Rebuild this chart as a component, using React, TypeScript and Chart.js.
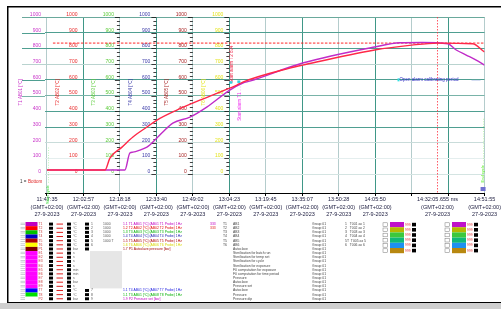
import React, { useEffect, useRef } from 'react';
import { Chart, registerables } from 'chart.js';

Chart.register(...registerables);

const FONT = '"Liberation Sans", Arial, sans-serif';

// ---------- x axis (minutes after 11:47:35) ----------
const tickMinutes = [0, 15.36, 30.72, 46.08, 61.44, 76.81, 92.17, 107.53, 122.89, 138.25, 153.61, 168.97, 184.33];
const tickTimes = ['11:47:35', '12:02:57', '12:18:18', '12:33:40', '12:49:02', '13:04:23', '13:19:45', '13:35:07', '13:50:28', '14:05:50', '', '', '14:51:55'];
const tickZone = '(GMT+02:00)';
const tickDate = '27-9-2023';

const cursorMinute = 164.5;
const cursorTime = '14:32:05.655 ms';

// ---------- y axis ----------
const yTickValues = [0, 100, 200, 300, 400, 500, 600, 700, 800, 900, 1000];
const yGridColors = ['#d4e4e2', '#e4eeee', '#c9dcda', '#4f9f91', '#4f9f91', '#79b3a8', '#4f9f91', '#b9d3cf', '#4f9f91', '#4f9f91', '#6aa99c'];

// ---------- series ----------
const t1Minutes = [0, 32.8, 34.9, 36.2, 39.1, 42.1, 43.3, 46.3, 48.8, 53.0, 60.2, 67.3, 77.0, 82.5, 85.4, 107.7, 138.0, 148.6, 158.0, 168.8, 172.4, 176.6, 180.8, 184.3];
const t1Values = [26, 26, 134, 140, 153, 172, 185, 230, 268, 325, 363, 427, 535, 580, 592, 707, 809, 836, 838, 830, 790, 758, 726, 694];

const t2Minutes = [0, 24.4, 26.5, 31.6, 36.2, 42.1, 46.3, 54.7, 64.4, 72.8, 80.0, 82.5, 102.3, 107.7, 138.0, 153.6, 164.5, 179.3, 184.3];
const t2Values = [26, 26, 102, 172, 236, 300, 344, 408, 471, 522, 567, 586, 675, 694, 790, 821, 834, 830, 777];

const alarmLimit = 834;
const alarmFrom = 2.5;
const alarmTo = 184.33;

// ---------- in-plot axis columns ----------
const columnTicks = [0, 1, 2, 3, 4, 5];
const columnTitles = ['T1 AB01 [°C]', 'T2 AB02 [°C]', 'T3 AB03 [°C]', 'T4 AB04 [°C]', 'T5 AB05 [°C]', 'T6 AB06 [°C]'];
const columnColors = ['#c833c8', '#e82a2a', '#5ccc3a', '#3a3aa8', '#a82424', '#e4e41c'];

// ---------- table below ----------
const rowSwatches = ['#c000c0', '#ff0000', '#00c000', '#0000c8', '#b00000', '#ffff00', '#800000', '#ff00ff', '#ff00ff', '#ff00ff', '#ff00ff', '#ff00ff', '#ff00ff', '#ff00ff', '#ff00ff', '#ff00ff', '#0000ff', '#00e000', '#ffffff'];
const rowIds = ['T1', 'T2', 'T3', 'T4', 'T5', 'T6', 'P1', 'E1', 'E2', 'E3', 'E4', 'E5', 'E6', 'E7', 'E8', 'E9', 'T7', 'T8', 'P2'];
const rowUnits = ['°C', '°C', '°C', '°C', '°C', '°C', 'bar', 's', 's', 's', 's', 'min', 'min', 's', 'bar', 's', '°C', '°C', 'bar'];
const rowChannel = ['1', '2', '3', '4', '5', '6', '', '', '', '', '', '', '', '', '', '', '7', '8', '9'];
const rowRange = ['1000', '1000', '1000', '1000', '1000 T', '', '', '', '', '', '', '', '', '', '', '', '', '', ''];
const rowNames = ['1.1 T1 AB01 [°C] (AB01 T1 Probe) 1Hz', '1.2 T2 AB02 [°C] (AB02 T2 Probe) 1Hz', '1.3 T3 AB03 [°C] (AB03 T3 Probe) 1Hz', '1.4 T4 AB04 [°C] (AB04 T4 Probe) 1Hz', '1.5 T5 AB05 [°C] (AB05 T5 Probe) 1Hz', '1.6 T6 AB06 [°C] (AB06 T6 Probe) 1Hz', '1.7 P1 Autoclave pressure [bar]', '', '', '', '', '', '', '', '', '', '1.1 T4 AB01 [°C] (AB07 T7 Probe) 1Hz', '1.1 T3 AB01 [°C] (AB08 T8 Probe) 1Hz', '1.9 P2 Pressure set [bar]'];
const rowNameColors = ['#c000c0', '#e00000', '#00b000', '#2020b0', '#b00000', '#d8d800', '#a00000', '', '', '', '', '', '', '', '', '', '#2020e0', '#00b000', '#c000c0'];
const rowFlags = ['333', '333', '', '', '', '', '', '', '', '', '', '', '', '', '', '', '', '', ''];
const rowTags = ['T1', 'T2', 'T3', 'T4', 'T5', 'T6', '', '', '', '', '', '', '', '', '', '', '', '', ''];
const rowDesc = ['AB1', 'AB2', 'AB3', 'AB4', 'AB5', 'AB6', 'Autoclave', 'Sterilisation for batch run', 'Sterilisation for temp set', 'Sterilisation for cycle', 'Sterilisation for exposure', 'F0 computation for exposure', 'F0 computation for time period', 'Pressure', 'Autoclave', 'Pressure set', 'Autoclave', 'Pressure', 'Pressure dip'];
const rowGroup = 'Group 01';
const channelNames = ['1   T001 ax 1', '2   T002 ax 2', '3   T003 ax 3', '4   T004 ax 4', '5T  T005 ax 5', '6   T006 ax 6'];
const groupSwatches = ['#c010c8', '#b4b800', '#3cc83c', '#10b878', '#1e90f0', '#b88810'];
const groupValues = ['999', '999', '999', '999', '999', '999'];

const markerText = 'Open alarm calibrating period';

function App() {
  const ref = useRef<HTMLCanvasElement | null>(null);

  useEffect(() => {
    const canvas = ref.current;
    if (!canvas) return;

    const decor = {
      id: 'decor',
      beforeDraw(chart: any) {
        const c = chart.ctx;
        c.save();
        c.fillStyle = '#ffffff';
        c.fillRect(0, 0, chart.width, chart.height);
        c.restore();
      },
      beforeDatasetsDraw(chart: any) {
        const c = chart.ctx;
        const xs = chart.scales.x;
        const ys = chart.scales.y;
        const area = chart.chartArea;
        c.save();
        yTickValues.forEach((v, i) => {
          if (v < 500) return;
          const y = Math.round(ys.getPixelForValue(v)) + 0.5;
          c.strokeStyle = yGridColors[i];
          c.lineWidth = 1;
          c.beginPath();
          c.moveTo(22, y);
          c.lineTo(area.left, y);
          c.stroke();
        });
        columnColors.forEach((col, k) => {
          const px = xs.getPixelForValue(tickMinutes[columnTicks[k]]);
          c.font = `5px ${FONT}`;
          c.textAlign = 'right';
          c.textBaseline = 'middle';
          c.fillStyle = col;
          yTickValues.forEach((v) => {
            c.fillText(String(v), px - 6, ys.getPixelForValue(v) - 2.5);
          });
          if (k >= 2) {
            c.strokeStyle = '#111';
            c.lineWidth = 0.8;
            for (let v = 0; v <= 1000; v += 25) {
              const y = Math.round(ys.getPixelForValue(v)) + 0.5;
              const len = v % 100 === 0 ? 5 : 3;
              c.beginPath();
              c.moveTo(px - len, y);
              c.lineTo(px, y);
              c.stroke();
            }
          }
          c.save();
          c.translate(px - 26, ys.getPixelForValue(520));
          c.rotate(-Math.PI / 2);
          c.textAlign = 'center';
          c.font = `4.5px ${FONT}`;
          c.fillStyle = col;
          c.fillText(columnTitles[k], 0, 0);
          c.restore();
        });
        c.restore();
      },
      afterDraw(chart: any) {
        const c = chart.ctx;
        const xs = chart.scales.x;
        const ys = chart.scales.y;
        const area = chart.chartArea;
        c.save();

        const cx = Math.round(xs.getPixelForValue(cursorMinute)) + 0.5;
        c.strokeStyle = '#ff3040';
        c.lineWidth = 0.8;
        c.setLineDash([1.5, 1.5]);
        c.beginPath();
        c.moveTo(cx, area.top);
        c.lineTo(cx, area.bottom);
        c.stroke();
        c.setLineDash([]);
        c.fillStyle = '#222244';
        c.font = `5.5px ${FONT}`;
        c.textAlign = 'center';
        c.textBaseline = 'middle';
        c.fillText(cursorTime, cx, area.bottom + 6.5);
        c.fillText(tickZone, cx, area.bottom + 14);
        c.fillText(tickDate, cx, area.bottom + 21.5);

        const drawVert = (text: string, x: number, y: number, color: string, size: number) => {
          c.save();
          c.translate(x, y);
          c.rotate(-Math.PI / 2);
          c.textAlign = 'center';
          c.textBaseline = 'middle';
          c.font = `${size}px ${FONT}`;
          c.fillStyle = color;
          c.fillText(text, 0, 0);
          c.restore();
        };
        const x0 = xs.getPixelForValue(tickMinutes[0]) + 1;
        drawVert('Start cycle  - - - - - - - - - - - - - - -', x0, ys.getPixelForValue(-10), '#33dd33', 4);
        const xe = xs.getPixelForValue(tickMinutes[12]) - 2;
        drawVert('End cycle - - - - - - - - - - - - - - - - - - -', xe, ys.getPixelForValue(150), '#55ee22', 4);
        const xa = xs.getPixelForValue(tickMinutes[5]) + 2;
        drawVert('Start alarm T2 834', xa, ys.getPixelForValue(700), '#ee2244', 4.5);
        drawVert('Start alarm T1 ....', xa + 8, ys.getPixelForValue(450), '#ee33ee', 4.5);
        c.fillStyle = '#30d0e0';
        c.fillRect(xa - 2, ys.getPixelForValue(585) - 1, 3, 2.5);
        c.fillRect(xa + 6, ys.getPixelForValue(590) - 1, 3, 2.5);

        const bx = xs.getPixelForValue(148.5);
        const by = ys.getPixelForValue(600);
        c.fillStyle = '#30e0e0';
        c.fillRect(bx - 2, by - 1.5, 2, 3);
        c.fillStyle = '#2828c0';
        c.font = `4.5px ${FONT}`;
        c.textAlign = 'left';
        c.fillText(markerText, bx, by);
        c.strokeStyle = '#b8c4e8';
        c.lineWidth = 0.7;
        c.beginPath();
        c.moveTo(bx + 72, by + 0.5);
        c.lineTo(area.right - 4, by + 0.5);
        c.stroke();
        c.fillStyle = '#7070d0';
        c.fillRect(area.right - 4, area.bottom - 6, 5, 4);

        c.font = `4.5px ${FONT}`;
        c.textAlign = 'left';
        c.fillStyle = '#333';
        c.fillText('1 =', 20, 182);
        c.fillStyle = '#e02020';
        c.fillText('Bottom', 28, 182);

        const r0 = 222;
        const rh = 4.15;
        c.textBaseline = 'middle';
        c.fillStyle = '#e6e6e6';
        c.fillRect(90, r0 + 7 * rh, 32, 9 * rh);
        rowSwatches.forEach((sw, r) => {
          const y = r0 + r * rh;
          const cy = y + rh / 2;
          c.fillStyle = '#a8b0b8';
          c.fillRect(20.5, y + 0.8, 4.5, 0.6);
          c.fillRect(20.5, y + 2.4, 4.5, 0.6);
          c.fillStyle = sw;
          c.fillRect(25.5, y, 12, rh);
          c.font = `3.4px ${FONT}`;
          c.textAlign = 'left';
          c.fillStyle = '#c84040';
          c.fillText(rowIds[r], 38.5, cy);
          c.fillStyle = '#000';
          c.fillRect(49, y + 0.6, 4, rh - 1.2);
          c.fillStyle = '#e02020';
          c.fillRect(56.5, cy - 0.5, 6.5, 1);
          c.fillStyle = '#000';
          c.fillRect(67, y + 0.6, 4, rh - 1.2);
          c.fillStyle = '#666';
          c.fillText(rowUnits[r], 73, cy);
          if (r < 7 || r > 15) {
            c.fillStyle = '#000';
            c.fillRect(85, y + 0.6, 4, rh - 1.2);
          }
          c.fillStyle = '#555';
          c.fillText(rowChannel[r], 91, cy);
          c.fillText(rowRange[r], 103, cy);
          if (rowNames[r]) {
            c.fillStyle = rowNameColors[r];
            c.fillText(rowNames[r], 123, cy);
          }
          if (rowFlags[r]) {
            c.fillStyle = r === 0 ? '#c000c0' : '#e02020';
            c.fillText(rowFlags[r], 210, cy);
          }
          c.fillStyle = '#444';
          c.fillText(rowTags[r], 223, cy);
          c.fillText(rowDesc[r], 233, cy);
          c.fillText(rowGroup, 312, cy);
          if (r < channelNames.length) c.fillText(channelNames[r], 345, cy);
        });
        const gh = 5.2;
        [383, 445].forEach((gx) => {
          groupSwatches.forEach((sw, r) => {
            const y = r0 + r * gh;
            c.strokeStyle = '#777';
            c.lineWidth = 0.5;
            c.fillStyle = '#fff';
            c.fillRect(gx, y + 0.8, 4.5, 3.6);
            c.strokeRect(gx, y + 0.8, 4.5, 3.6);
            c.fillStyle = sw;
            c.fillRect(gx + 7, y, 14, gh);
            c.fillStyle = '#e03030';
            c.font = `3.4px ${FONT}`;
            c.fillText(groupValues[r], gx + 22, y + gh / 2);
            c.fillStyle = '#000';
            c.fillRect(gx + 29, y + 0.8, 4, gh - 1.6);
          });
        });

        // page frame: top & left border, bottom band
        c.fillStyle = '#cfcfcf';
        c.fillRect(0, 303, 501, 6);
        c.fillStyle = '#000';
        c.fillRect(7, 6, 494, 1.5);
        c.fillRect(7, 6, 1.5, 297);
        c.fillRect(7, 302, 494, 1);
        c.restore();
      },
    };

    const chart = new Chart(canvas, {
      type: 'line',
      data: {
        datasets: [
          {
            label: 'T2 AB02',
            data: t2Minutes.map((m, i) => ({ x: m, y: t2Values[i] })),
            borderColor: '#ff2848',
            borderWidth: 1.4,
            pointRadius: 0,
            cubicInterpolationMode: 'monotone',
          },
          {
            label: 'T1 AB01',
            data: t1Minutes.map((m, i) => ({ x: m, y: t1Values[i] })),
            borderColor: '#c02cc8',
            borderWidth: 1.4,
            pointRadius: 0,
            cubicInterpolationMode: 'monotone',
          },
          {
            label: 'Alarm',
            data: [
              { x: alarmFrom, y: alarmLimit },
              { x: alarmTo, y: alarmLimit },
            ],
            borderColor: '#ff1010',
            borderWidth: 0.9,
            borderDash: [2.5, 1.5],
            pointRadius: 0,
          },
        ],
      },
      options: {
        animation: false,
        responsive: false,
        maintainAspectRatio: false,
        layout: { padding: { top: 17, right: 16, left: 0, bottom: 0 } },
        plugins: { legend: { display: false }, tooltip: { enabled: false } },
        scales: {
          x: {
            type: 'linear',
            min: -0.84,
            max: 184.33,
            afterBuildTicks: (s: any) => {
              s.ticks = tickMinutes.map((v) => ({ value: v }));
            },
            afterFit: (s: any) => {
              s.height = 116;
            },
            grid: {
              color: (ctx: any) => (ctx.index % 2 ? '#3f9787' : '#b4cccc'),
              tickColor: '#000',
              tickLength: 3,
              lineWidth: 1,
            },
            border: { display: true, color: '#000', width: 1 },
            ticks: {
              autoSkip: false,
              maxRotation: 0,
              padding: 0,
              color: '#222244',
              font: { size: 5.5, family: FONT, lineHeight: 1.36 },
              callback: (_v: any, i: number) => (tickTimes[i] ? [tickTimes[i], tickZone, tickDate] : ''),
            },
          },
          y: {
            min: -120,
            max: 1000,
            afterBuildTicks: (s: any) => {
              s.ticks = yTickValues.map((v) => ({ value: v }));
            },
            afterFit: (s: any) => {
              s.width = 45;
            },
            ticks: { display: false },
            grid: {
              color: (ctx: any) => yGridColors[ctx.index] || '#ccc',
              drawTicks: false,
              lineWidth: 1,
            },
            border: { display: false },
          },
        },
      },
      plugins: [decor],
    } as any);

    return () => chart.destroy();
  }, []);

  return (
    <div style={{ position: 'fixed', left: 0, top: 0, width: 501, height: 309, background: '#fff' }}>
      <canvas ref={ref} width={501} height={309} style={{ display: 'block', width: 501, height: 309 }} />
    </div>
  );
}

export default App;
